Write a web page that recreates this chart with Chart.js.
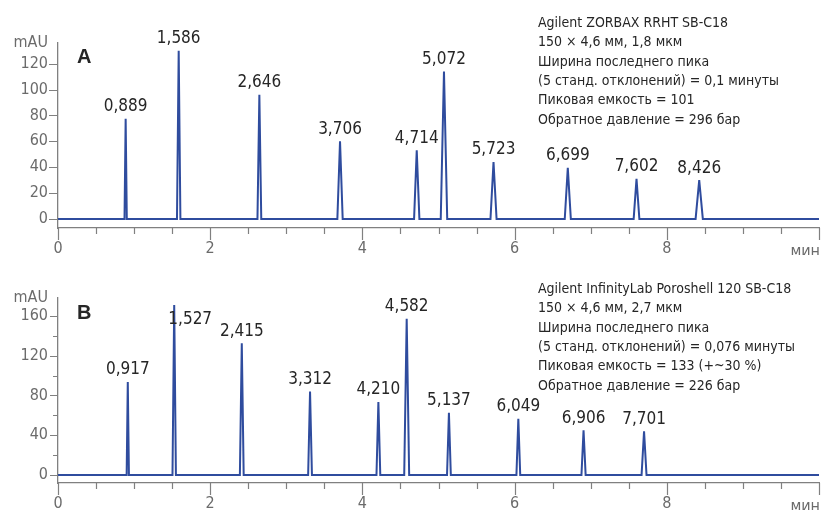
<!DOCTYPE html>
<html lang="ru">
<head>
<meta charset="utf-8">
<title>Хроматограммы A / B</title>
<script src="https://cdn.jsdelivr.net/npm/chart.js@4.4.0/dist/chart.umd.min.js"></script>
<style>
  html, body { margin: 0; padding: 0; background: #fff; }
  .wrap { position: relative; width: 830px; height: 255px; }
</style>
</head>
<body>
<div class="wrap"><canvas id="chartA" width="830" height="255"></canvas></div>
<div class="wrap"><canvas id="chartB" width="830" height="255"></canvas></div>
<script>
// ── Data ─────────────────────────────────────────────────────────────────────

const X_LABELS = [0, 2, 4, 6, 8];
const X_UNIT   = 'мин';
const Y_UNIT   = 'mAU';

// A: Agilent ZORBAX RRHT SB-C18
const timesA   = [0.889, 1.586, 2.646, 3.706, 4.714, 5.072, 5.723, 6.699, 7.602, 8.426];
const heightsA = [77.5, 130, 96, 60, 53, 114, 44, 39.5, 31, 30];
const widthsA  = [0.03, 0.045, 0.05, 0.07, 0.07, 0.085, 0.08, 0.08, 0.075, 0.095]; // ширина у основания, мин
const yTicksA  = [0, 20, 40, 60, 80, 100, 120];
const yLabelsA = [0, 20, 40, 60, 80, 100, 120];
const infoA = [
  'Agilent ZORBAX RRHT SB-C18',
  '150 × 4,6 мм, 1,8 мкм',
  'Ширина последнего пика',
  '(5 станд. отклонений) = 0,1 минуты',
  'Пиковая емкость = 101',
  'Обратное давление = 296 бар',
];

// B: Agilent InfinityLab Poroshell 120 SB-C18
const timesB   = [0.917, 1.527, 2.415, 3.312, 4.210, 4.582, 5.137, 6.049, 6.906, 7.701];
const heightsB = [93.5, 171, 132.5, 84, 73.5, 157, 62.5, 56.5, 45, 44];
const widthsB  = [0.03, 0.045, 0.05, 0.05, 0.05, 0.065, 0.05, 0.05, 0.055, 0.065];
const yTicksB  = [0, 20, 40, 60, 80, 100, 120, 140, 160];
const yLabelsB = [0, 40, 80, 120, 160];
const infoB = [
  'Agilent InfinityLab Poroshell 120 SB-C18',
  '150 × 4,6 мм, 2,7 мкм',
  'Ширина последнего пика',
  '(5 станд. отклонений) = 0,076 минуты',
  'Пиковая емкость = 133 (+~30 %)',
  'Обратное давление = 226 бар',
];

// ── Style ───────────────────────────────────────────────────────────────────

const FONT       = "'DejaVu Sans Condensed', 'Liberation Sans', sans-serif";
const LINE_COLOR = '#2f4c9e';
const AXIS_COLOR = '#808080';
const TICK_TEXT  = '#6b6b6b';
const DARK_TEXT  = '#262626';

// след хроматограммы: базовая линия + треугольные пики
function buildTrace(times, heights, widths) {
  const pts = [{ x: 0, y: 0 }];
  times.forEach((t, i) => {
    const w = widths[i] / 2;
    pts.push({ x: t - w, y: 0 }, { x: t, y: heights[i] }, { x: t + w, y: 0 });
  });
  pts.push({ x: 10, y: 0 });
  return pts;
}

const fmt = t => t.toFixed(3).replace('.', ',');

// ── Plugins ─────────────────────────────────────────────────────────────────

const tickMarks = {
  id: 'tickMarks',
  afterDraw(chart, args, o) {
    const { ctx, scales: { x, y } } = chart;
    ctx.save();
    ctx.strokeStyle = AXIS_COLOR;
    ctx.lineWidth = 1.2;
    ctx.beginPath();
    x.ticks.forEach(t => {
      const px = Math.round(x.getPixelForValue(t.value)) + 0.5;
      const len = t.value % 2 === 0 ? o.xMajor : o.xMinor;
      ctx.moveTo(px, x.top);
      ctx.lineTo(px, x.top + len);
    });
    y.ticks.forEach(t => {
      const py = Math.round(y.getPixelForValue(t.value)) + 0.5;
      const len = o.yMajorValues.includes(t.value) ? o.yMajor : o.yMinor;
      ctx.moveTo(y.right - len, py);
      ctx.lineTo(y.right, py);
    });
    ctx.stroke();
    ctx.restore();
  },
};

const annotations = {
  id: 'annotations',
  afterDraw(chart, args, o) {
    const { ctx, chartArea, scales: { x, y } } = chart;
    ctx.save();

    // подписи пиков
    ctx.font = '17px ' + FONT;
    ctx.fillStyle = DARK_TEXT;
    ctx.textAlign = 'center';
    ctx.textBaseline = 'middle';
    o.times.forEach((t, i) => {
      const shift = (o.labelShift && o.labelShift[i]) || [0, 0];
      const px = x.getPixelForValue(t) + shift[0];
      const py = y.getPixelForValue(o.heights[i]) - 12 + shift[1];
      ctx.fillText(fmt(t), px, py);
    });

    // блок с параметрами колонки
    ctx.font = '14px ' + FONT;
    ctx.textAlign = 'left';
    ctx.textBaseline = 'alphabetic';
    o.info.forEach((line, i) => ctx.fillText(line, 538, o.infoTop + i * 19.3));

    // буква панели
    ctx.font = "bold 20px 'Liberation Sans', Arial, sans-serif";
    ctx.fillText(o.panel, 77, o.panelBase);

    // единицы осей
    ctx.font = '16px ' + FONT;
    ctx.fillStyle = TICK_TEXT;
    ctx.textAlign = 'right';
    ctx.fillText(Y_UNIT, chartArea.left - 10, 47);
    ctx.fillText(X_UNIT, x.getPixelForValue(10) + 1, 256);

    ctx.restore();
  },
};

// ── Chart factory ───────────────────────────────────────────────────────────

function makeChart(canvasId, cfg) {
  return new Chart(document.getElementById(canvasId), {
    type: 'line',
    data: {
      datasets: [{
        data: buildTrace(cfg.times, cfg.heights, cfg.widths),
        borderColor: LINE_COLOR,
        borderWidth: 2,
        pointRadius: 0,
        tension: 0,
        fill: false,
      }],
    },
    options: {
      responsive: false,
      animation: false,
      parsing: false,
      layout: { padding: { top: 43, right: 4, left: 0, bottom: 0 } },
      plugins: {
        legend: { display: false },
        tooltip: { enabled: false },
        tickMarks: cfg.tickMarks,
        annotations: {
          times: cfg.times, heights: cfg.heights, info: cfg.info,
          infoTop: cfg.infoTop, panel: cfg.panel, panelBase: cfg.panelBase,
          labelShift: cfg.labelShift,
        },
      },
      scales: {
        x: {
          type: 'linear', min: 0, max: 10,
          grid: { display: false, drawTicks: false },
          border: { display: true, color: AXIS_COLOR, width: 1.3 },
          ticks: {
            stepSize: 0.5, autoSkip: false, maxRotation: 0, padding: 11,
            color: TICK_TEXT, font: { family: FONT, size: 16 },
            callback: v => (X_LABELS.includes(v) ? String(v) : ''),
          },
          afterFit: s => { s.height = 27; },
        },
        y: {
          min: cfg.yMin, max: cfg.yMax,
          grid: { display: false, drawTicks: false },
          border: { display: true, color: AXIS_COLOR, width: 1.3 },
          ticks: {
            padding: 10,
            color: TICK_TEXT, font: { family: FONT, size: 16 },
            callback: v => (cfg.yLabels.includes(v) ? String(v) : ''),
          },
          afterBuildTicks: s => { s.ticks = cfg.yTicks.map(v => ({ value: v })); },
          afterFit: s => { s.width = 58; },
        },
      },
    },
    plugins: [tickMarks, annotations],
  });
}

makeChart('chartA', {
  times: timesA, heights: heightsA, widths: widthsA,
  yTicks: yTicksA, yLabels: yLabelsA, yMin: -7, yMax: 136,
  info: infoA, infoTop: 27, panel: 'A', panelBase: 63,
  tickMarks: { xMajor: 12, xMinor: 6, yMajor: 9, yMinor: 9, yMajorValues: yLabelsA },
});

makeChart('chartB', {
  times: timesB, heights: heightsB, widths: widthsB,
  yTicks: yTicksB, yLabels: yLabelsB, yMin: -8, yMax: 178,
  info: infoB, infoTop: 38, panel: 'B', panelBase: 64,
  labelShift: { 1: [16, 27] },
  tickMarks: { xMajor: 12, xMinor: 6, yMajor: 8, yMinor: 5, yMajorValues: yLabelsB },
});
</script>
</body>
</html>
